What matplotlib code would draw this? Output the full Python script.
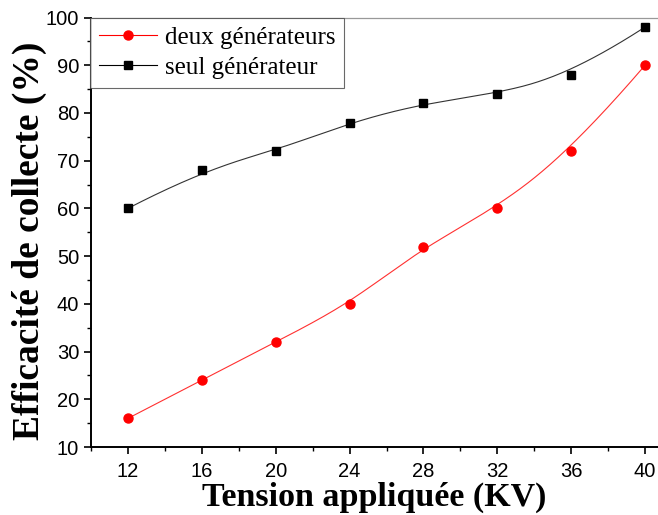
import numpy as np
import matplotlib
matplotlib.use("Agg")
import matplotlib.pyplot as plt
from matplotlib.ticker import MultipleLocator

# Données mesurées
tension = [12, 16, 20, 24, 28, 32, 36, 40]
eff_deux = [16, 24, 32, 40, 52, 60, 72, 90]
eff_seul = [60, 68, 72, 78, 82, 84, 88, 98]


def bspline(x, y, n=400):
    """B-spline cubique (noeuds bloqués aux extrémités), points = points de contrôle."""
    P = np.column_stack([x, y]).astype(float)
    m = len(P)
    k = 3
    knots = np.concatenate([np.zeros(k), np.arange(m - k + 1), np.full(k, m - k)])
    t = np.linspace(0, m - k, n)
    t[-1] -= 1e-9
    # Cox-de Boor
    B = np.zeros((n, len(knots) - 1))
    for i in range(len(knots) - 1):
        B[:, i] = (knots[i] <= t) & (t < knots[i + 1])
    for d in range(1, k + 1):
        Bn = np.zeros((n, len(knots) - 1 - d))
        for i in range(len(knots) - 1 - d):
            a = knots[i + d] - knots[i]
            b = knots[i + d + 1] - knots[i + 1]
            left = (t - knots[i]) / a * B[:, i] if a > 0 else 0
            right = (knots[i + d + 1] - t) / b * B[:, i + 1] if b > 0 else 0
            Bn[:, i] = left + right
        B = Bn
    C = B @ P
    return C[:, 0], C[:, 1]


fig = plt.figure(figsize=(6.58, 5.15), dpi=100)
ax = fig.add_axes([0.1383, 0.132, 0.8617, 0.834])

xs, ys = bspline(tension, eff_deux)
ax.plot(xs, ys, color="#ff3030", lw=0.8, zorder=2)
ax.plot(tension, eff_deux, "o", color="red", ms=6.5, zorder=3)

xs, ys = bspline(tension, eff_seul)
ax.plot(xs, ys, color="#333333", lw=0.8, zorder=2)
ax.plot(tension, eff_seul, "s", color="black", ms=5.5, zorder=3)

# entrées de légende (ligne + marqueur)
h1, = ax.plot([], [], "-o", color="red", lw=0.8, ms=6.5, mfc="red")
h2, = ax.plot([], [], "-s", color="black", lw=0.8, ms=5.5)

ax.set_xlim(10, 40.7)
ax.set_ylim(10, 100)
ax.xaxis.set_major_locator(MultipleLocator(4))
ax.xaxis.set_minor_locator(MultipleLocator(2))
ax.yaxis.set_major_locator(MultipleLocator(10))
ax.yaxis.set_minor_locator(MultipleLocator(5))

for side in ("left", "bottom"):
    ax.spines[side].set_linewidth(1.4)
    ax.spines[side].set_color("black")
ax.spines["top"].set_color("#999999")
ax.spines["top"].set_linewidth(0.9)
ax.spines["right"].set_visible(False)

ax.tick_params(which="major", direction="out", length=5, width=1.2,
               labelsize=14.5, top=False, right=False)
ax.tick_params(which="minor", direction="out", length=3, width=1.0,
               top=False, right=False)
ax.tick_params(axis="x", pad=6)
for lab in ax.get_xticklabels() + ax.get_yticklabels():
    lab.set_fontfamily("Liberation Sans")

ax.set_xlabel("Tension appliquée (KV)", fontfamily="Liberation Serif",
              fontweight="bold", fontsize=24.5, labelpad=0)
ax.set_ylabel("Efficacité de collecte (%)", fontfamily="Liberation Serif",
              fontweight="bold", fontsize=27)
ax.yaxis.set_label_coords(-0.078, 0.48)

leg = ax.legend([h1, h2], ["deux générateurs", "seul générateur"],
                loc="upper left", bbox_to_anchor=(-0.002, 1.0),
                prop={"family": "Liberation Serif", "size": 18},
                frameon=True, fancybox=False, handlelength=2.35,
                handletextpad=0.3, borderpad=0.35, labelspacing=0.3,
                borderaxespad=0)
leg.get_frame().set_edgecolor("#444444")
leg.get_frame().set_linewidth(0.8)

fig.savefig("out.png", dpi=100)
